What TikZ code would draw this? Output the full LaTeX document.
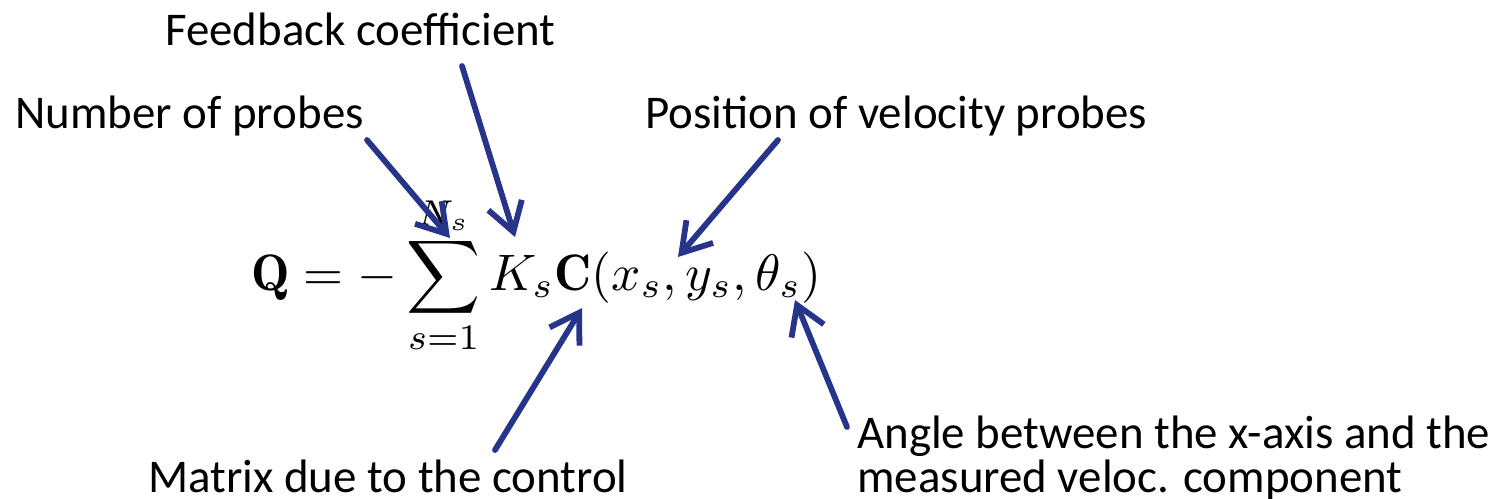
\documentclass[tikz,border=0pt]{standalone}
\usepackage{amsmath}
\usepackage{fontspec}
\newfontfamily\lblfont{Carlito}
\usetikzlibrary{arrows.meta,positioning}
\definecolor{arrowblue}{RGB}{38,52,138}

\begin{document}
\begin{tikzpicture}[x=0.02cm, y=-0.02cm,
    lbl/.style={font=\lblfont\fontsize{26.7}{30}\selectfont, inner sep=0pt, anchor=base west},
    pointer/.style={draw=arrowblue, line width=3.3pt, line cap=round,
        -{Straight Barb[length=0.56cm, width=0.7cm, line width=3.3pt]}}]
        \useasboundingbox (0,0) rectangle (1492,498);

        % Formula
        \node[inner sep=0pt, anchor=base west, scale=2.92, transform shape] (eq) at (250,290)
            {$\displaystyle \mathbf{Q} = -\sum_{s=1}^{N_s} K_s\mathbf{C}(x_s,y_s,\theta_s)$};

        % Labels
        \node[lbl] (fb) at (165,45) {Feedback coefficient};
        \node[lbl] (np) at (15,128) {Number of probes};
        \node[lbl] (pos) at (645,128) {Position of velocity probes};
        \node[lbl] (ang) at (857,448) {Angle between the x-axis and the};
        \node[lbl] (meas) at (857,492) {measured veloc. component};
        \node[lbl] (mat) at (148,492) {Matrix due to the control};

        % Arrow ends
        \coordinate (npT) at (367,140);  \coordinate (npH) at (450,238);
        \coordinate (fbT) at (462,66);   \coordinate (fbH) at (515,237);
        \coordinate (posT) at (778,140); \coordinate (posH) at (678,257);
        \coordinate (matT) at (495,450); \coordinate (matH) at (582,308);
        \coordinate (angT) at (847,427); \coordinate (angH) at (795,300);

        % Arrows
        \draw[pointer] (npT) -- (npH);
        \draw[pointer] (fbT) -- (fbH);
        \draw[pointer] (posT) -- (posH);
        \draw[pointer] (matT) -- (matH);
        \draw[pointer] (angT) -- (angH);
    \end{tikzpicture}
\end{document}
